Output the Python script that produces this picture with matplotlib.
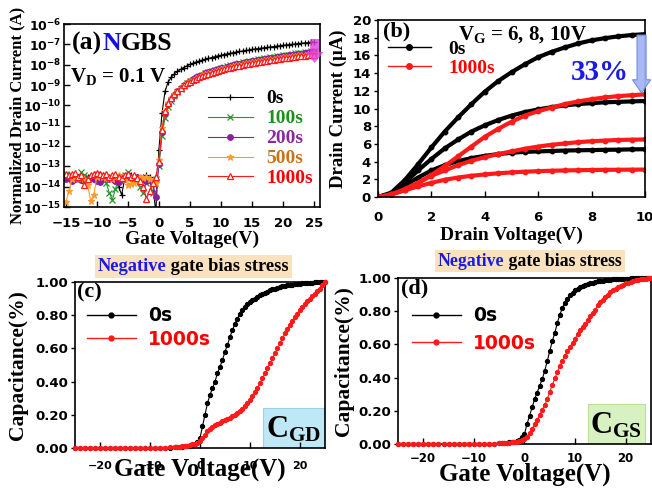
import numpy as np
import matplotlib
matplotlib.use('Agg')
import matplotlib.pyplot as plt
from matplotlib.patches import FancyArrow, Rectangle
from matplotlib.lines import Line2D
from matplotlib.ticker import FixedLocator, FuncFormatter, NullLocator

SERIF = 'Liberation Serif'
SANS = 'DejaVu Sans'

plt.rcParams['font.family'] = [SANS]
plt.rcParams['font.weight'] = 'bold'
plt.rcParams['axes.labelweight'] = 'bold'
plt.rcParams['mathtext.fontset'] = 'custom'
plt.rcParams['mathtext.rm'] = 'Liberation Serif:bold'
plt.rcParams['mathtext.bf'] = 'Liberation Serif:bold'
plt.rcParams['mathtext.it'] = 'Liberation Serif:bold:italic'
plt.rcParams['mathtext.sf'] = 'DejaVu Sans:bold'

# ---------------- (a) transfer curves, log10 of normalized drain current ----------------
vg_a = np.arange(-15, 25.01, 0.5)
labels_a = ['0s', '100s', '200s', '500s', '1000s']
log_id_0s = [-13.5, -13.45, -13.5, -13.55, -13.5, -13.45, -13.5, -13.5, -13.55, -13.45,
             -13.5, -13.5, -13.45, -13.5, -13.55, -13.6, -13.7, -14.0, -14.4, -13.6,
             -13.5, -13.45, -13.5, -13.5, -13.55, -13.5, -13.45, -13.5, -13.7, -15.3,
             -12.2, -10.4, -9.3, -8.85, -8.62, -8.46, -8.33, -8.23, -8.14, -8.06,
             -7.99, -7.93, -7.87, -7.82, -7.77, -7.73, -7.69, -7.65, -7.61, -7.57,
             -7.54, -7.5, -7.47, -7.44, -7.41, -7.38, -7.35, -7.33, -7.3, -7.28,
             -7.25, -7.23, -7.21, -7.19, -7.17, -7.15, -7.13, -7.11, -7.09, -7.07,
             -7.05, -7.03, -7.01, -7.0, -6.98, -6.96, -6.95, -6.93, -6.92, -6.9, -6.89]
log_id_100s = [-13.4, -13.5, -13.55, -13.6, -13.5, -13.3, -13.45, -13.5, -13.6, -13.5,
               -13.4, -13.55, -13.45, -13.8, -14.3, -14.65, -14.1, -13.6, -13.5, -13.45,
               -13.3, -13.5, -13.55, -13.6, -14.0, -14.3, -13.8, -13.7, -14.3, -13.6,
               -13.0, -11.5, -10.6, -10.1, -9.8, -9.55, -9.35, -9.18, -9.04, -8.92,
               -8.82, -8.73, -8.65, -8.57, -8.5, -8.43, -8.37, -8.31, -8.26, -8.21,
               -8.16, -8.12, -8.08, -8.04, -8.0, -7.96, -7.93, -7.89, -7.86, -7.83,
               -7.8, -7.77, -7.74, -7.71, -7.69, -7.66, -7.64, -7.61, -7.59, -7.56,
               -7.54, -7.52, -7.5, -7.47, -7.45, -7.43, -7.41, -7.39, -7.37, -7.35, -7.33]
log_id_200s = [-13.6, -13.55, -13.7, -13.6, -13.5, -13.65, -13.7, -13.6, -13.5, -13.6,
               -13.7, -13.75, -13.6, -13.5, -13.6, -13.55, -13.7, -13.75, -13.6, -13.5,
               -13.45, -13.55, -13.6, -13.5, -13.55, -13.6, -13.7, -13.65, -13.8, -14.5,
               -12.9, -11.3, -10.4, -9.95, -9.68, -9.47, -9.29, -9.14, -9.01, -8.9,
               -8.8, -8.71, -8.63, -8.56, -8.49, -8.43, -8.37, -8.32, -8.27, -8.22,
               -8.18, -8.14, -8.1, -8.06, -8.02, -7.99, -7.95, -7.92, -7.89, -7.86,
               -7.83, -7.8, -7.77, -7.75, -7.72, -7.7, -7.67, -7.65, -7.62, -7.6,
               -7.58, -7.56, -7.54, -7.52, -7.5, -7.48, -7.46, -7.44, -7.42, -7.4, -7.38]
log_id_500s = [-14.75, -14.2, -13.6, -13.5, -13.55, -13.5, -13.6, -13.9, -14.7, -14.4,
               -13.5, -13.45, -13.5, -13.55, -13.5, -13.6, -13.5, -13.45, -13.5, -13.6,
               -13.9, -13.85, -13.8, -13.6, -13.5, -13.55, -13.5, -13.6, -13.7, -13.8,
               -12.7, -11.1, -10.3, -9.9, -9.65, -9.45, -9.28, -9.14, -9.02, -8.91,
               -8.82, -8.74, -8.66, -8.59, -8.53, -8.47, -8.41, -8.36, -8.31, -8.27,
               -8.22, -8.18, -8.14, -8.11, -8.07, -8.04, -8.0, -7.97, -7.94, -7.91,
               -7.88, -7.86, -7.83, -7.8, -7.78, -7.75, -7.73, -7.71, -7.68, -7.66,
               -7.64, -7.62, -7.6, -7.58, -7.56, -7.54, -7.52, -7.5, -7.48, -7.46, -7.45]
log_id_1000s = [-13.4, -13.45, -13.4, -13.35, -13.5, -13.45, -13.9, -13.6, -13.45, -13.4,
                -13.35, -13.4, -13.45, -13.4, -13.5, -13.45, -13.4, -13.5, -13.55, -13.45,
                -13.4, -13.5, -13.45, -13.55, -13.7, -14.0, -14.6, -14.2, -13.8, -13.5,
                -12.8, -11.2, -10.3, -9.9, -9.65, -9.45, -9.28, -9.14, -9.02, -8.92,
                -8.83, -8.75, -8.68, -8.61, -8.55, -8.49, -8.44, -8.39, -8.34, -8.3,
                -8.26, -8.22, -8.18, -8.15, -8.11, -8.08, -8.05, -8.02, -7.99, -7.96,
                -7.93, -7.9, -7.88, -7.85, -7.83, -7.8, -7.78, -7.76, -7.73, -7.71,
                -7.69, -7.67, -7.65, -7.63, -7.61, -7.59, -7.57, -7.55, -7.53, -7.51, -7.5]

# ---------------- (b) output curves, VG = 6, 8, 10 V (uA) ----------------
vd_b = np.arange(0, 10.01, 0.5)
id_0s_vg10 = [0, 0.5, 1.9, 3.7, 5.6, 7.4, 9.0, 10.5, 11.9, 13.1, 14.1, 15.0, 15.8, 16.4,
              16.9, 17.35, 17.7, 17.95, 18.15, 18.3, 18.4]
id_0s_vg8 = [0, 0.4, 1.6, 3.0, 4.3, 5.5, 6.5, 7.4, 8.1, 8.7, 9.2, 9.6, 9.9, 10.15,
             10.35, 10.5, 10.6, 10.7, 10.75, 10.8, 10.85]
id_0s_vg6 = [0, 0.35, 1.3, 2.2, 3.0, 3.6, 4.05, 4.4, 4.65, 4.85, 5.0, 5.1, 5.15, 5.2,
             5.25, 5.28, 5.3, 5.33, 5.35, 5.38, 5.4]
id_1000s_vg10 = [0, 0.3, 0.8, 1.6, 2.5, 3.5, 4.6, 5.7, 6.8, 7.7, 8.5, 9.2, 9.7, 10.1,
                 10.5, 10.8, 11.05, 11.25, 11.4, 11.5, 11.6]
id_1000s_vg8 = [0, 0.25, 0.9, 1.6, 2.4, 3.0, 3.6, 4.1, 4.5, 4.85, 5.15, 5.45, 5.7, 5.9,
                6.05, 6.2, 6.3, 6.38, 6.44, 6.48, 6.5]
id_1000s_vg6 = [0, 0.3, 0.75, 1.2, 1.6, 1.95, 2.2, 2.4, 2.55, 2.68, 2.78, 2.86, 2.92, 2.97,
                3.0, 3.03, 3.05, 3.07, 3.08, 3.09, 3.1]

# ---------------- (c), (d) normalized C-V ----------------
vg_cv = np.concatenate([np.arange(-25, -5.5, 1.0), np.arange(-5, 25.01, 0.5)])
cgd_0s = [0.0, 0.0, 0.0, 0.0, 0.0, 0.0, 0.0, 0.0, 0.0, 0.0, 0.0, 0.001, 0.001, 0.001,
          0.001, 0.002, 0.002, 0.002, 0.003, 0.003,
          0.004, 0.005, 0.006, 0.008, 0.01, 0.012, 0.015, 0.019, 0.024, 0.035, 0.06,
          0.13, 0.2, 0.27, 0.32, 0.36, 0.4, 0.45, 0.49, 0.53, 0.58, 0.62, 0.67, 0.71,
          0.75, 0.78, 0.81, 0.83, 0.85, 0.865, 0.88, 0.89, 0.9, 0.91, 0.92, 0.93, 0.935,
          0.94, 0.95, 0.955, 0.96, 0.965, 0.97, 0.973, 0.976, 0.979, 0.982, 0.984, 0.986,
          0.988, 0.99, 0.991, 0.993, 0.994, 0.995, 0.996, 0.997, 0.998, 0.999, 0.9995, 1.0]
cgd_1000s = [0.0, 0.0, 0.0, 0.0, 0.0, 0.0, 0.0, 0.0, 0.0, 0.0, 0.001, 0.001, 0.001, 0.001,
             0.002, 0.002, 0.002, 0.003, 0.003, 0.004,
             0.005, 0.006, 0.008, 0.01, 0.012, 0.015, 0.018, 0.022, 0.027, 0.033, 0.042,
             0.06, 0.08, 0.1, 0.115, 0.127, 0.137, 0.145, 0.152, 0.16, 0.167, 0.174, 0.182,
             0.19, 0.2, 0.21, 0.222, 0.236, 0.252, 0.27, 0.29, 0.312, 0.336, 0.362, 0.39,
             0.42, 0.45, 0.48, 0.51, 0.54, 0.57, 0.6, 0.63, 0.66, 0.69, 0.715, 0.74, 0.765,
             0.79, 0.81, 0.83, 0.85, 0.87, 0.885, 0.9, 0.915, 0.93, 0.945, 0.96, 0.98, 1.0]
cgs_0s = [0.0, 0.0, 0.0, 0.0, 0.0, 0.0, 0.0, 0.0, 0.0, 0.0, 0.0, 0.001, 0.001, 0.001,
          0.001, 0.002, 0.002, 0.002, 0.003, 0.003,
          0.004, 0.005, 0.006, 0.008, 0.01, 0.012, 0.015, 0.02, 0.025, 0.04, 0.06,
          0.12, 0.17, 0.22, 0.27, 0.31, 0.35, 0.39, 0.44, 0.5, 0.56, 0.62, 0.67, 0.73,
          0.78, 0.82, 0.85, 0.875, 0.895, 0.91, 0.925, 0.935, 0.945, 0.952, 0.958, 0.963,
          0.968, 0.972, 0.976, 0.979, 0.982, 0.984, 0.986, 0.988, 0.99, 0.991, 0.992,
          0.993, 0.994, 0.995, 0.996, 0.996, 0.997, 0.997, 0.998, 0.998, 0.999, 0.999,
          0.9995, 0.9998, 1.0]
cgs_1000s = [0.0, 0.0, 0.0, 0.0, 0.0, 0.0, 0.0, 0.0, 0.0, 0.0, 0.0, 0.001, 0.001, 0.001,
             0.001, 0.002, 0.002, 0.002, 0.003, 0.003,
             0.004, 0.005, 0.006, 0.007, 0.008, 0.01, 0.012, 0.015, 0.018, 0.023, 0.03,
             0.045, 0.065, 0.09, 0.12, 0.145, 0.175, 0.205, 0.235, 0.27, 0.315, 0.355,
             0.395, 0.435, 0.47, 0.5, 0.53, 0.56, 0.585, 0.61, 0.635, 0.66, 0.685, 0.705,
             0.725, 0.745, 0.77, 0.79, 0.81, 0.835, 0.855, 0.87, 0.885, 0.9, 0.915, 0.925,
             0.935, 0.945, 0.953, 0.96, 0.967, 0.972, 0.977, 0.981, 0.985, 0.988, 0.991,
             0.994, 0.996, 0.998, 1.0]

RED = '#ff1a1a'
colors_a = ['black', '#22992a', '#8a1f9e', '#ff9a2e', RED]
text_colors_a = ['black', '#1f8f1f', '#8a2a9a', '#c87418', '#ff0000']
markers_a = ['+', 'x', 'o', '*', '^']

fig = plt.figure(figsize=(6.52, 4.95), dpi=100)
ax_a = fig.add_axes([0.0982, 0.5818, 0.3926, 0.3697])
ax_b = fig.add_axes([0.5798, 0.6020, 0.4095, 0.3576])
ax_c = fig.add_axes([0.1150, 0.0949, 0.3834, 0.3354])
ax_d = fig.add_axes([0.6104, 0.1030, 0.3880, 0.3354])

for ax in (ax_a, ax_b, ax_c, ax_d):
    for sp in ax.spines.values():
        sp.set_linewidth(1.2)

# ---- (a)
series_a = [log_id_0s, log_id_100s, log_id_200s, log_id_500s, log_id_1000s]
handles_a = []
for vals, col, mk, lab in zip(series_a, colors_a, markers_a, labels_a):
    face = 'white' if mk == '^' else col
    ms = 5 if mk == '*' else 4
    h, = ax_a.semilogy(vg_a, 10.0 ** np.array(vals), color=col, lw=0.8, marker=mk,
                       ms=ms, mew=0.9, mfc=face, mec=col, label=lab)
    handles_a.append(h)
ax_a.set_xlim(-15.3, 26)
ax_a.set_ylim(1e-15, 1e-6)
ax_a.set_xticks([-15, -10, -5, 0, 5, 10, 15, 20, 25])
ax_a.yaxis.set_major_locator(FixedLocator(10.0 ** np.arange(-15, -5)))
ax_a.yaxis.set_minor_locator(NullLocator())
ax_a.yaxis.set_major_formatter(FuncFormatter(
    lambda v, p: r'$\mathsf{10^{%d}}$' % int(round(np.log10(v)))))
ax_a.tick_params(axis='x', direction='in', length=4, width=1, labelsize=9.5, pad=7)
ax_a.tick_params(axis='y', direction='in', length=4, width=1, labelsize=9, pad=2)
ax_a.set_xlabel('Gate Voltage(V)', family=SERIF, fontsize=14)
ax_a.xaxis.set_label_coords(0.5, -0.13)
ax_a.set_ylabel('Normalized Drain Current (A)', family=SERIF, fontsize=12)
ax_a.yaxis.set_label_coords(-0.15, 0.5)
ax_a.legend(handles=handles_a, loc='upper left', bbox_to_anchor=(0.562, 0.64),
            frameon=False, numpoints=1, handlelength=2.3, handletextpad=0.7,
            labelspacing=0.12, borderpad=0, borderaxespad=0,
            prop={'family': SERIF, 'weight': 'bold', 'size': 14},
            labelcolor=text_colors_a)
t1 = ax_a.text(0.031, 0.858, '(a)', transform=ax_a.transAxes, family=SERIF,
               fontsize=18.5, va='baseline')
t2 = ax_a.annotate('N', xy=(1, 0.858), xycoords=(t1, 'axes fraction'), family=SERIF,
                   fontsize=18.5, va='baseline', color='#1010e0')
ax_a.annotate('GBS', xy=(1, 0.858), xycoords=(t2, 'axes fraction'), family=SERIF,
              fontsize=18.5, va='baseline')
ax_a.text(0.023, 0.683, r'V$_{\mathrm{D}}$ = 0.1 V', transform=ax_a.transAxes,
          family=SERIF, fontsize=15, va='baseline')
ax_a.add_patch(FancyArrow(0.979, 0.918, 0, -0.131, width=0.035, head_width=0.07,
                          head_length=0.06, length_includes_head=True,
                          transform=ax_a.transAxes, color='#e040e0', alpha=0.8,
                          lw=0, clip_on=False, zorder=5))

# ---- (b)
for vals in (id_0s_vg10, id_0s_vg8, id_0s_vg6):
    ax_b.plot(vd_b, vals, color='black', lw=3, marker='o', ms=3.2)
for vals in (id_1000s_vg10, id_1000s_vg8, id_1000s_vg6):
    ax_b.plot(vd_b, vals, color=RED, lw=3, marker='o', ms=3.2)
ax_b.set_xlim(0, 10)
ax_b.set_ylim(0, 20)
ax_b.set_xticks(np.arange(0, 11, 2))
ax_b.set_yticks(np.arange(0, 21, 2))
ax_b.tick_params(axis='x', direction='in', length=4, width=1, labelsize=9.5, pad=10)
ax_b.tick_params(axis='y', direction='out', length=3, width=1, labelsize=9.5, pad=2)
ax_b.set_xlabel('Drain Voltage(V)', family=SERIF, fontsize=14)
ax_b.xaxis.set_label_coords(0.5, -0.165)
ax_b.set_ylabel('Drain Current (\u03bcA)', family=SERIF, fontsize=13.5)
ax_b.yaxis.set_label_coords(-0.115, 0.5)
leg_b = [Line2D([], [], color='black', lw=1, marker='o', ms=4),
         Line2D([], [], color=RED, lw=1, marker='o', ms=4)]
ax_b.legend(leg_b, ['0s', '1000s'], loc='upper left', bbox_to_anchor=(0.037, 0.885),
            frameon=False, numpoints=1, handlelength=2.2, handletextpad=0.9,
            labelspacing=0.05, borderpad=0, borderaxespad=0,
            prop={'family': SERIF, 'weight': 'bold', 'size': 14},
            labelcolor=['black', '#ff0000'])
ax_b.text(0.019, 0.905, '(b)', transform=ax_b.transAxes, family=SERIF, fontsize=16,
          va='baseline')
ax_b.text(0.30, 0.887, r'V$_{\mathrm{G}}$ = 6, 8, 10V', transform=ax_b.transAxes,
          family=SERIF, fontsize=15, va='baseline')
ax_b.text(0.83, 0.661, '33%', transform=ax_b.transAxes, family=SERIF, fontsize=21,
          va='baseline', ha='center', color='#1a1ae6')
ax_b.add_patch(FancyArrow(9.87, 18.3, 0, -6.55, width=0.34, head_width=0.68,
                          head_length=1.5, length_includes_head=True,
                          facecolor='#a3b6f3', edgecolor='#6f8be0', lw=0.8,
                          alpha=0.95, clip_on=False, zorder=5))

# ---- (c), (d)
panels = [(ax_c, cgd_0s, cgd_1000s, '(c)', r'C$_{\mathrm{GD}}$', '#bfe8f6', '#98d4e8',
           (0.752, 0.248), 8, 9),
          (ax_d, cgs_0s, cgs_1000s, '(d)', r'C$_{\mathrm{GS}}$', '#d8f1c2', '#b9df9c',
           (0.751, 0.225), 8.5, 6)]
for ax, c0, c1, tag, cname, fc, ec, (bx, bw), xls, xpad in panels:
    ax.plot(vg_cv, c0, color='black', lw=0.8, marker='o', ms=2.8, clip_on=False,
            zorder=3)
    ax.plot(vg_cv, c1, color=RED, lw=0.8, marker='o', ms=2.8, clip_on=False, zorder=3)
    ax.set_xlim(-25, 25)
    ax.set_ylim(0, 1)
    ax.set_xticks([-20, -10, 0, 10, 20])
    ax.set_yticks(np.arange(0, 1.01, 0.2))
    ax.yaxis.set_major_formatter(FuncFormatter(lambda v, p: '%.2f' % v))
    ax.tick_params(axis='x', direction='in', length=4, width=1, labelsize=xls, pad=xpad)
    ax.tick_params(axis='y', direction='out', length=3, width=1, labelsize=9.5, pad=2)
    ax.set_ylabel('Capacitance(%)', family=SERIF, fontsize=15.5)
    ax.set_xlabel('Gate Voltage(V)', family=SERIF, fontsize=18)
    leg = [Line2D([], [], color='black', lw=1, marker='o', ms=3.5),
           Line2D([], [], color=RED, lw=1, marker='o', ms=3.5)]
    ax.text(0.01, 0.935, tag, transform=ax.transAxes, family=SERIF, fontsize=16,
            va='center')
    ax.add_patch(Rectangle((bx, 0.0), bw, 0.24, transform=ax.transAxes, facecolor=fc,
                           edgecolor=ec, lw=0.8, zorder=1))
    ax.text(bx + bw / 2, 0.11, cname, transform=ax.transAxes, family=SERIF,
            fontsize=22, ha='center', va='center', zorder=4)
    ax.legend(leg, ['0s', '1000s'], loc='upper left',
              bbox_to_anchor=(0.048, 0.855) if tag == '(c)' else (0.055, 0.83),
              frameon=False, numpoints=1, handlelength=2.6, handletextpad=0.65,
              labelspacing=0.25 if tag == '(c)' else 0.45, borderpad=0, borderaxespad=0,
              prop={'family': SANS, 'weight': 'bold', 'size': 13.5},
              labelcolor=['black', '#ff0000'])

ax_c.xaxis.set_label_coords(0.5, -0.06)
ax_c.yaxis.set_label_coords(-0.188, 0.5)
ax_d.xaxis.set_label_coords(0.5, -0.11)
ax_d.yaxis.set_label_coords(-0.174, 0.5)

# "Negative gate bias stress" headers
for x0, y0, w, h, fs in [(0.1457, 0.4384, 0.302, 0.0465, 13.3),
                         (0.667, 0.4505, 0.291, 0.0444, 12.8)]:
    fig.add_artist(Rectangle((x0, y0), w, h, transform=fig.transFigure,
                             facecolor='#fbe2bf', edgecolor='none'))
    tn = fig.text(x0 + 0.004, y0 + h / 2, 'Negative', family=SERIF, fontsize=fs,
                  color='#1a1ae6', va='center')
    fig.add_artist(plt.Annotation(' gate bias stress', xy=(1, y0 + h / 2),
                                  xycoords=(tn, 'figure fraction'), family=SERIF,
                                  fontsize=fs, va='center', weight='bold'))

fig.savefig('out.png', dpi=100)
